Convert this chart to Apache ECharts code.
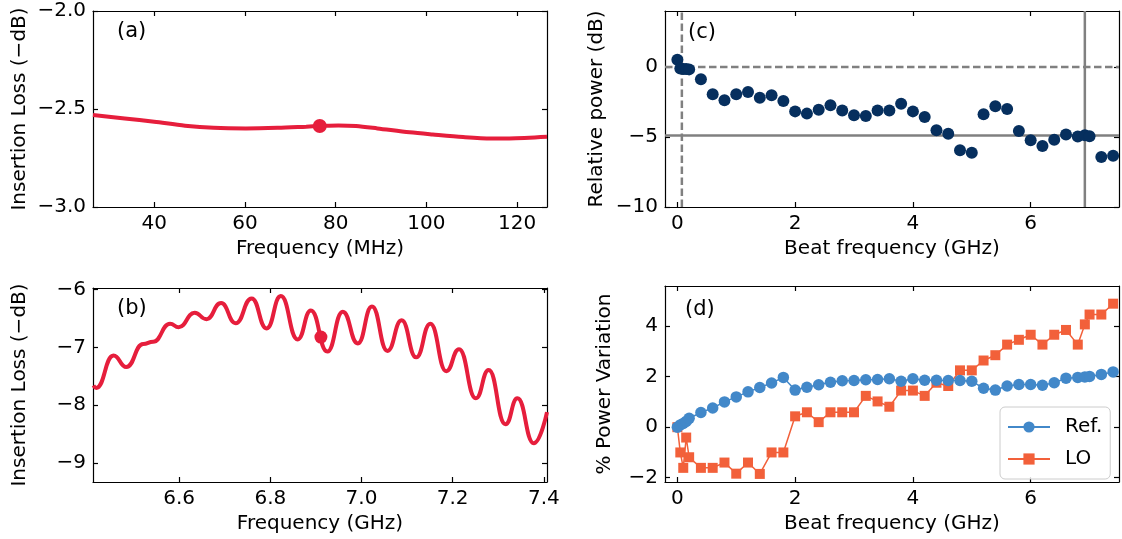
<!DOCTYPE html>
<html>
<head>
<meta charset="utf-8">
<script src="https://cdn.jsdelivr.net/npm/echarts@6/dist/echarts.min.js"></script>
<style>
  html, body { margin: 0; padding: 0; background: #fff; }
  #chart { width: 1122px; height: 539px; }
</style>
</head>
<body>
<div id="chart"></div>
<script>
// (a) insertion loss around the modulation frequency
const aFreqMHz = [26.5, 33.5, 40, 46.8, 53.1, 60.2, 67.2, 73.5, 76.5, 80.6, 84.5, 89.2, 96.3, 101.4, 108.1, 114.3, 118.3, 126.6];
const aLossDb  = [-2.531, -2.548, -2.565, -2.585, -2.596, -2.599, -2.596, -2.590, -2.587, -2.584, -2.587, -2.599, -2.619, -2.630, -2.643, -2.650, -2.650, -2.642];
const aMarkFreqMHz = [76.5];
const aMarkLossDb  = [-2.587];

// (b) insertion loss around the carrier (ripple extrema)
const bFreqGHz = [6.412, 6.418, 6.456, 6.484, 6.521, 6.543, 6.580, 6.599, 6.634, 6.660, 6.692, 6.724, 6.759, 6.792, 6.823, 6.860, 6.889, 6.925, 6.959, 6.992, 7.023, 7.057, 7.088, 7.120, 7.151, 7.186, 7.214, 7.251, 7.279, 7.316, 7.342, 7.378, 7.407];
const bLossDb  = [-7.66, -7.70, -7.14, -7.34, -6.94, -6.90, -6.59, -6.65, -6.40, -6.51, -6.23, -6.58, -6.15, -6.67, -6.11, -6.86, -6.36, -7.07, -6.38, -6.93, -6.29, -7.06, -6.53, -7.17, -6.59, -7.41, -7.03, -7.88, -7.39, -8.33, -7.88, -8.66, -8.12];
const bMarkFreqGHz = [6.911];
const bMarkLossDb  = [-6.82];

// (c), (d) beat-note sweep
const beatFreqGHz = [0, 0.05, 0.1, 0.15, 0.2, 0.4, 0.6, 0.8, 1.0, 1.2, 1.4, 1.6, 1.8, 2.0, 2.2, 2.4, 2.6, 2.8, 3.0, 3.2, 3.4, 3.6, 3.8, 4.0, 4.2, 4.4, 4.6, 4.8, 5.0, 5.2, 5.4, 5.6, 5.8, 6.0, 6.2, 6.4, 6.6, 6.8, 6.92, 7.0, 7.2, 7.4];
const relPowerDb  = [0.52, -0.10, -0.15, -0.15, -0.17, -0.88, -1.95, -2.38, -1.95, -1.79, -2.19, -2.02, -2.43, -3.17, -3.33, -3.05, -2.74, -3.10, -3.45, -3.50, -3.10, -3.10, -2.62, -3.17, -3.57, -4.52, -4.76, -5.95, -6.12, -3.38, -2.81, -3.00, -4.57, -5.24, -5.64, -5.19, -4.82, -4.97, -4.88, -4.95, -6.43, -6.34];
const refVarPct   = [0, 0.09, 0.15, 0.23, 0.35, 0.58, 0.76, 1.00, 1.20, 1.40, 1.57, 1.75, 1.97, 1.47, 1.58, 1.68, 1.78, 1.84, 1.85, 1.88, 1.89, 1.92, 1.82, 1.92, 1.86, 1.86, 1.85, 1.85, 1.82, 1.54, 1.47, 1.63, 1.69, 1.69, 1.66, 1.76, 1.94, 1.97, 1.99, 2.01, 2.09, 2.19];
const loVarPct    = [0, -1.00, -1.61, -0.41, -1.19, -1.61, -1.61, -1.40, -1.84, -1.40, -1.85, -1.00, -1.00, 0.43, 0.59, 0.20, 0.59, 0.59, 0.59, 1.24, 1.02, 0.81, 1.45, 1.45, 1.24, 1.76, 1.63, 2.25, 2.25, 2.64, 2.85, 3.27, 3.46, 3.66, 3.27, 3.66, 3.85, 3.27, 4.07, 4.46, 4.46, 4.89];

// guide lines in (c)
const cZeroDb = 0;
const cLevelDb = -4.9;
const cModFreqGHz = 0.0765;
const cCarrierFreqGHz = 6.92;

// axis limits and tick labels
const aXRange = [26.5, 126.6], aYRange = [-3.0, -2.0];
const bXRange = [6.411, 7.407], bYRange = [-9.33, -5.97];
const cXRange = [-0.21, 7.5],  cYRange = [-10, 4];
const dXRange = [-0.21, 7.5],  dYRange = [-2.17, 5.59];
const aXTicks = [40, 60, 80, 100, 120], aYTicks = [-3.0, -2.5, -2.0];
const bXTicks = [6.6, 6.8, 7.0, 7.2, 7.4], bYTicks = [-9, -8, -7, -6];
const cXTicks = [0, 2, 4, 6], cYTicks = [-10, -5, 0];
const dXTicks = [0, 2, 4, 6], dYTicks = [-2, 0, 2, 4];

const FONT = 'DejaVu Sans';
const FS = 20;
const RED = '#e61e3c';
const NAVY = '#062f5e';
const BLUE = '#4288c9';
const ORANGE = '#f2603a';
const GUIDE = '#808080';

const zip = (xs, ys) => xs.map((x, i) => [x, ys[i]]);
const fmtMinus = s => String(s).replace('-', '\u2212');

const grids = [
  { left: 93,  top: 11,  width: 454, height: 196 },
  { left: 93,  top: 288, width: 454, height: 194 },
  { left: 665, top: 11,  width: 454, height: 196 },
  { left: 665, top: 286, width: 454, height: 196 }
].map(g => Object.assign({ containLabel: false, outerBoundsMode: 'none' }, g));

const xAxes = [], yAxes = [];
function frame(grid, xr, yr, xt, yt, xfmt, yfmt, xName, yName, yGap) {
  const line = { show: true, onZero: false, lineStyle: { color: '#000', width: 1.2 } };
  const tick = (vals) => ({ show: true, inside: true, length: 5, customValues: vals, lineStyle: { color: '#000', width: 1.2 } });
  const lab = (vals, fmt) => ({ show: true, customValues: vals, formatter: fmt, color: '#000', fontSize: FS, fontFamily: FONT, margin: 7 });
  const nameStyle = { color: '#000', fontSize: FS, fontFamily: FONT };
  const base = { type: 'value', gridIndex: grid, splitLine: { show: false }, axisLine: line, nameMoveOverlap: false };
  const xi = xAxes.length, yi = yAxes.length;
  xAxes.push(Object.assign({}, base, { position: 'bottom', min: xr[0], max: xr[1], axisTick: tick(xt), axisLabel: lab(xt, xfmt),
    name: xName, nameLocation: 'middle', nameGap: 32, nameTextStyle: nameStyle }));
  xAxes.push(Object.assign({}, base, { position: 'top', min: xr[0], max: xr[1], axisTick: tick(xt), axisLabel: { show: false } }));
  yAxes.push(Object.assign({}, base, { position: 'left', min: yr[0], max: yr[1], axisTick: tick(yt), axisLabel: lab(yt, yfmt),
    name: yName, nameLocation: 'middle', nameGap: yGap, nameTextStyle: nameStyle }));
  yAxes.push(Object.assign({}, base, { position: 'right', min: yr[0], max: yr[1], axisTick: tick(yt), axisLabel: { show: false } }));
  return { x: xi, y: yi };
}

const pa = frame(0, aXRange, aYRange, aXTicks, aYTicks, v => String(v), v => fmtMinus(Number(v).toFixed(1)), 'Frequency (MHz)', 'Insertion Loss (\u2212dB)', 63);
const pb = frame(1, bXRange, bYRange, bXTicks, bYTicks, v => Number(v).toFixed(1), v => fmtMinus(v), 'Frequency (GHz)', 'Insertion Loss (\u2212dB)', 63);
const pc = frame(2, cXRange, cYRange, cXTicks, cYTicks, v => String(v), v => fmtMinus(v), 'Beat frequency (GHz)', 'Relative power (dB)', 58);
const pd = frame(3, dXRange, dYRange, dXTicks, dYTicks, v => String(v), v => fmtMinus(v), 'Beat frequency (GHz)', '% Power Variation', 50);

const guide = (data, dashed) => ({
  type: 'line', xAxisIndex: pc.x, yAxisIndex: pc.y, data, showSymbol: false, silent: true, z: 1,
  lineStyle: { color: GUIDE, width: 2.5, type: dashed ? [7.5, 3.5] : 'solid' }
});

const series = [
  { type: 'line', xAxisIndex: pa.x, yAxisIndex: pa.y, data: zip(aFreqMHz, aLossDb), smooth: 0.3, showSymbol: false,
    lineStyle: { color: RED, width: 4 }, z: 2 },
  { type: 'scatter', xAxisIndex: pa.x, yAxisIndex: pa.y, data: zip(aMarkFreqMHz, aMarkLossDb), symbolSize: 14,
    itemStyle: { color: RED, opacity: 1 }, z: 3 },
  { type: 'line', xAxisIndex: pb.x, yAxisIndex: pb.y, data: zip(bFreqGHz, bLossDb), smooth: 0.5, smoothMonotone: 'x', showSymbol: false,
    lineStyle: { color: RED, width: 4 }, z: 2 },
  { type: 'scatter', xAxisIndex: pb.x, yAxisIndex: pb.y, data: zip(bMarkFreqGHz, bMarkLossDb), symbolSize: 13,
    itemStyle: { color: RED, opacity: 1 }, z: 3 },
  guide([[cXRange[0], cZeroDb], [cXRange[1], cZeroDb]], true),
  guide([[cModFreqGHz, cYRange[0]], [cModFreqGHz, cYRange[1]]], true),
  guide([[cXRange[0], cLevelDb], [cXRange[1], cLevelDb]], false),
  guide([[cCarrierFreqGHz, cYRange[0]], [cCarrierFreqGHz, cYRange[1]]], false),
  { type: 'scatter', xAxisIndex: pc.x, yAxisIndex: pc.y, data: zip(beatFreqGHz, relPowerDb), symbolSize: 12,
    itemStyle: { color: NAVY, opacity: 1 }, z: 3 },
  { name: 'Ref.', type: 'line', xAxisIndex: pd.x, yAxisIndex: pd.y, data: zip(beatFreqGHz, refVarPct),
    symbol: 'circle', symbolSize: 11.5, showAllSymbol: true, color: BLUE,
    itemStyle: { color: BLUE, opacity: 1 }, lineStyle: { color: BLUE, width: 1.5 }, z: 3 },
  { name: 'LO', type: 'line', xAxisIndex: pd.x, yAxisIndex: pd.y, data: zip(beatFreqGHz, loVarPct),
    symbol: 'rect', symbolSize: 10, showAllSymbol: true, color: ORANGE,
    itemStyle: { color: ORANGE, opacity: 1 }, lineStyle: { color: ORANGE, width: 1.5 }, z: 2 }
];

const panelTag = (text, left, top) => ({
  text, left, top, padding: 0,
  textStyle: { color: '#000', fontSize: 21, fontWeight: 'normal', fontFamily: FONT }
});

const option = {
  animation: false,
  backgroundColor: '#fff',
  textStyle: { fontFamily: FONT },
  title: [
    panelTag('(a)', 117, 21),
    panelTag('(b)', 117, 298),
    panelTag('(c)', 688, 22),
    panelTag('(d)', 685, 299)
  ],
  grid: grids,
  xAxis: xAxes,
  yAxis: yAxes,
  legend: {
    data: ['Ref.', 'LO'],
    orient: 'vertical',
    left: 1000, top: 407,
    itemWidth: 42, itemHeight: 14, itemGap: 12,
    padding: [10, 8, 10, 7],
    backgroundColor: 'rgba(255,255,255,0.85)',
    borderColor: '#cccccc', borderWidth: 1, borderRadius: 5,
    textStyle: { color: '#000', fontSize: FS, fontFamily: FONT, padding: [0, 0, 0, 10] }
  },
  series
};

const chart = echarts.init(document.getElementById('chart'), null, { renderer: 'canvas' });
chart.setOption(option);
</script>
</body>
</html>
